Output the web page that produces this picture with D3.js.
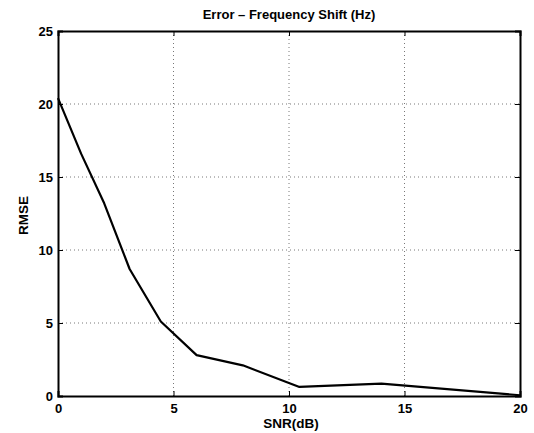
<!DOCTYPE html>
<html>
<head>
<meta charset="utf-8">
<script src="https://cdn.jsdelivr.net/npm/d3@7"></script>
<style>
  body { margin: 0; background: #fff; }
  svg text { font-family: "Liberation Sans", Arial, sans-serif; font-weight: bold; fill: #000; }
</style>
</head>
<body>
<div id="chart"></div>
<script>
// values
var snr = [0, 1, 2, 3.1, 4.45, 6, 8, 10.45, 14, 20];
var rmse = [20.4, 16.6, 13.2, 8.7, 5.1, 2.8, 2.1, 0.62, 0.85, 0.05];
var xTicks = [0, 5, 10, 15, 20];
var yTicks = [0, 5, 10, 15, 20, 25];

var W = 534, H = 433;
var m = {left: 58, right: 14, top: 31, bottom: 37};

var svg = d3.select("#chart").append("svg").attr("width", W).attr("height", H);

var x = d3.scaleLinear().domain([0, 20]).range([m.left, W - m.right]);
var y = d3.scaleLinear().domain([0, 25]).range([H - m.bottom, m.top]);

// dotted grid
var grid = svg.append("g").attr("stroke", "#555").attr("stroke-width", 0.8)
  .attr("stroke-dasharray", "1,3");
grid.selectAll(".gx").data(xTicks.slice(1, -1)).enter().append("line")
  .attr("x1", function(d){ return x(d); }).attr("x2", function(d){ return x(d); })
  .attr("y1", y(0)).attr("y2", y(25));
grid.selectAll(".gy").data(yTicks.slice(1, -1)).enter().append("line")
  .attr("y1", function(d){ return y(d); }).attr("y2", function(d){ return y(d); })
  .attr("x1", x(0)).attr("x2", x(20));

// axes, ticks point inward like matlab
var xAxis = svg.append("g").attr("transform", "translate(0," + y(0) + ")")
  .call(d3.axisBottom(x).tickValues(xTicks).tickSize(-5).tickPadding(8));
var xTop = svg.append("g").attr("transform", "translate(0," + y(25) + ")")
  .call(d3.axisTop(x).tickValues(xTicks).tickSize(-5).tickFormat(""));
var yAxis = svg.append("g").attr("transform", "translate(" + x(0) + ",0)")
  .call(d3.axisLeft(y).tickValues(yTicks).tickSize(-5).tickPadding(5));
var yRight = svg.append("g").attr("transform", "translate(" + x(20) + ",0)")
  .call(d3.axisRight(y).tickValues(yTicks).tickSize(-5).tickFormat(""));

[xAxis, xTop, yAxis, yRight].forEach(function(a){
  a.select(".domain").attr("stroke", "#000").attr("stroke-width", 2);
  a.selectAll(".tick line").attr("stroke", "#000").attr("stroke-width", 1);
  a.selectAll("text").style("font-size", "13px").style("font-family", "Liberation Sans, Arial, sans-serif")
    .style("font-weight", "bold").attr("fill", "#000");
});

// curve
var line = d3.line().x(function(d, i){ return x(snr[i]); }).y(function(d){ return y(d); });
svg.append("path").datum(rmse)
  .attr("d", line)
  .attr("fill", "none").attr("stroke", "#000").attr("stroke-width", 2.2)
  .attr("stroke-linejoin", "round");

// labels
svg.append("text").attr("x", (x(0) + x(20)) / 2).attr("y", 18.5)
  .attr("text-anchor", "middle").style("font-size", "13px")
  .text("Error \u2013 Frequency Shift (Hz)");
svg.append("text").attr("x", (x(0) + x(20)) / 2 + 2).attr("y", 428)
  .attr("text-anchor", "middle").style("font-size", "13.5px")
  .text("SNR(dB)");
svg.append("text").attr("transform", "translate(28," + (y(12.5) + 2) + ") rotate(-90)")
  .attr("text-anchor", "middle").style("font-size", "13.5px")
  .text("RMSE");
</script>
</body>
</html>
